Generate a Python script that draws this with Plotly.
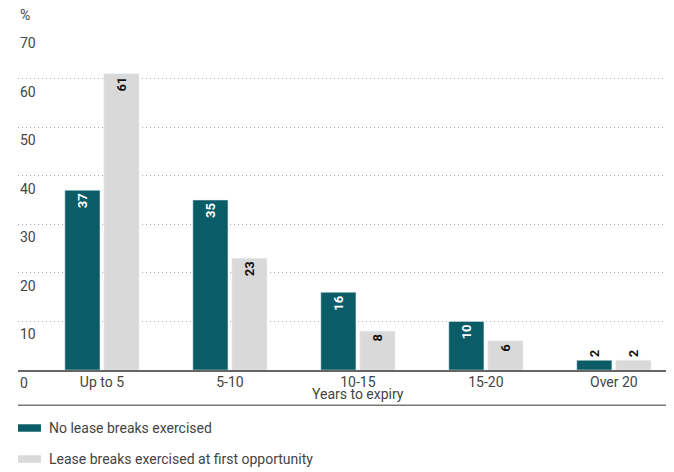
import plotly.graph_objects as go

categories = ["Up to 5", "5-10", "10-15", "15-20", "Over 20"]
no_breaks = [37, 35, 16, 10, 2]
breaks_first = [61, 23, 8, 6, 2]
series_names = ["No lease breaks exercised", "Lease breaks exercised at first opportunity"]
y_ticks = [0, 10, 20, 30, 40, 50, 60, 70]

DARK = "#0a5c66"
GRAY = "#d9d9d9"
TXT = "#444444"
FONT = "Roboto"

def positions(vals):
    return ["inside" if v > 3 else "outside" for v in vals]

fig = go.Figure()
fig.add_trace(go.Bar(
    x=categories, y=no_breaks, name=series_names[0], marker_color=DARK,
    text=[str(v) for v in no_breaks], textposition=positions(no_breaks),
    textangle=-90, insidetextanchor="end", cliponaxis=False,
    insidetextfont=dict(color="white", size=13, family=FONT, weight="bold"),
    outsidetextfont=dict(color="#111", size=13, family=FONT, weight="bold"),
    showlegend=False,
))
fig.add_trace(go.Bar(
    x=categories, y=breaks_first, name=series_names[1], marker_color=GRAY,
    text=[str(v) for v in breaks_first], textposition=positions(breaks_first),
    textangle=-90, insidetextanchor="end", cliponaxis=False,
    insidetextfont=dict(color="#111", size=13, family=FONT, weight="bold"),
    outsidetextfont=dict(color="#111", size=13, family=FONT, weight="bold"),
    showlegend=False,
))

annotations = []
for t in y_ticks:
    annotations.append(dict(
        x=0, xref="paper", y=t, yref="y", text=str(t), showarrow=False,
        xanchor="left", yanchor="top", yshift=-3,
        font=dict(size=14, color=TXT, family=FONT)))
annotations.append(dict(
    x=0, xref="paper", y=1.044, yref="paper", text="%", showarrow=False,
    xanchor="left", yanchor="middle", font=dict(size=14, color=TXT, family=FONT)))
annotations.append(dict(
    x=2, xref="x", y=-0.072, yref="paper", text="Years to expiry", showarrow=False,
    xanchor="center", yanchor="middle", font=dict(size=14, color=TXT, family=FONT)))

shapes = [dict(type="line", xref="paper", yref="paper", x0=0, x1=1, y0=-0.104, y1=-0.104,
               line=dict(color="#777777", width=1.5))]
legend_y = [-0.1706, -0.2618]
for name, col, ly in zip(series_names, [DARK, GRAY], legend_y):
    shapes.append(dict(type="rect", xref="paper", yref="paper", x0=0, x1=0.035,
                       y0=ly - 0.011, y1=ly + 0.011, fillcolor=col, line=dict(width=0)))
    annotations.append(dict(
        x=0.0442, xref="paper", y=ly, yref="paper", text=name, showarrow=False,
        xanchor="left", yanchor="middle", font=dict(size=14, color=TXT, family=FONT)))

# page body has an 8px margin; compensate so the figure fills the 674x472 window
fig.update_layout(
    width=666, height=464,
    margin=dict(l=10, r=0, t=22, b=102),
    paper_bgcolor="white", plot_bgcolor="white",
    barmode="group", bargap=0.39, bargroupgap=0.1,
    font=dict(family=FONT, size=14, color=TXT),
    xaxis=dict(range=[-0.656, 4.47], showgrid=False, showline=True, linecolor="#666666",
               linewidth=1.5, ticks="", tickfont=dict(size=14, color=TXT, family=FONT),
               ticklabelstandoff=-2, fixedrange=True),
    yaxis=dict(range=[0, 70], tickvals=y_ticks, showticklabels=False, showgrid=True,
               gridcolor="#aaaaaa", griddash="1px,3px", gridwidth=1, zeroline=False,
               fixedrange=True),
    annotations=annotations, shapes=shapes,
)

fig.write_html("out.html")
